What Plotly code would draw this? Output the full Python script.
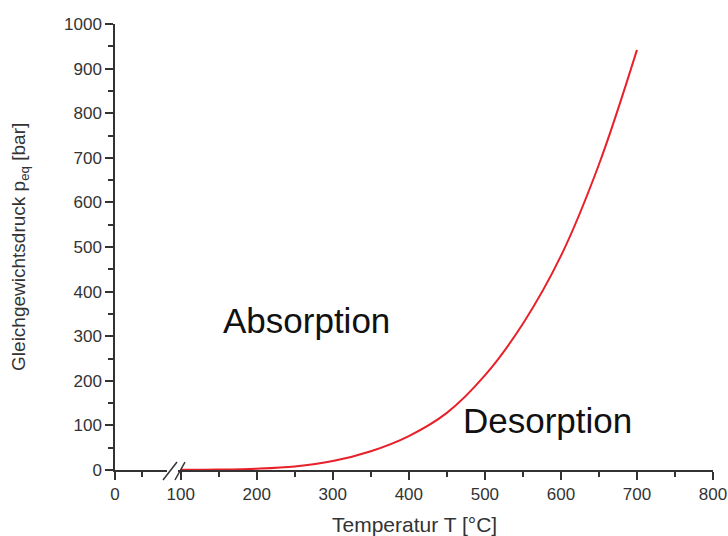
import plotly.graph_objects as go

# Equilibrium pressure curve (temperature in °C, pressure in bar)
temperature_c = [100, 150, 200, 250, 300, 350, 400, 450, 500, 550, 600, 650, 700]
pressure_bar = [0.3, 1, 3, 8, 20, 42, 76, 128, 212, 328, 480, 685, 942]

x_major_ticks = [100, 200, 300, 400, 500, 600, 700, 800]
y_major_ticks = [0, 100, 200, 300, 400, 500, 600, 700, 800, 900, 1000]

FONT = "Liberation Sans, Arial, sans-serif"
AXIS_COLOR = "#333333"
TEXT_COLOR = "#333333"

fig = go.Figure()
# The curve lives on the main temperature segment; it is also attached to the
# short segment near zero so that this segment forms its own subplot (clipped there).
for xa in ("x", "x2"):
    fig.add_trace(go.Scatter(
        x=temperature_c, y=pressure_bar,
        mode="lines", line=dict(color="#e8202a", width=2, shape="spline"),
        xaxis=xa, yaxis="y", showlegend=False, hoverinfo="x+y",
    ))

common_axis = dict(
    showgrid=False, zeroline=False, showline=True, automargin=False,
    linecolor=AXIS_COLOR, linewidth=1.5,
    ticks="outside", ticklen=8, tickwidth=1.5, tickcolor=AXIS_COLOR,
    tickfont=dict(family=FONT, size=17, color=TEXT_COLOR),
)

# Broken temperature axis: short segment near zero, then the main range
fig.update_layout(
    width=728, height=536,
    margin=dict(l=115, r=15, t=24, b=66),
    paper_bgcolor="white", plot_bgcolor="white",
    xaxis=dict(
        **common_axis, domain=[0, 0.087], range=[0, 97], anchor="y",
        tickmode="array", tickvals=[0], ticktext=["0"],
        minor=dict(tickmode="array", tickvals=[50], ticks="outside",
                   ticklen=5, tickwidth=1.5, tickcolor=AXIS_COLOR),
    ),
    xaxis2=dict(
        **common_axis, domain=[0.1054, 1], range=[96.5, 800], anchor="y",
        tickmode="array", tickvals=x_major_ticks,
        minor=dict(tickmode="linear", tick0=50, dtick=100, ticks="outside",
                   ticklen=5, tickwidth=1.5, tickcolor=AXIS_COLOR),
    ),
    yaxis=dict(
        **common_axis, range=[0, 1000], anchor="x", position=0,
        tickmode="array", tickvals=y_major_ticks,
        minor=dict(tickmode="linear", tick0=50, dtick=100, ticks="outside",
                   ticklen=5, tickwidth=1.5, tickcolor=AXIS_COLOR),
    ),
)

# Axis titles
fig.add_annotation(text="Temperatur T [°C]", xref="paper", yref="paper",
                   x=0.5, y=-0.123, xanchor="center", yanchor="middle", showarrow=False,
                   font=dict(family=FONT, size=21, color=TEXT_COLOR))
fig.add_annotation(text="Gleichgewichtsdruck p<sub>eq</sub> [bar]", xref="paper", yref="paper",
                   x=-0.159, y=0.5, xanchor="center", yanchor="middle",
                   textangle=-90, showarrow=False,
                   font=dict(family=FONT, size=19, color=TEXT_COLOR))

# Axis break marks
for x0, x1 in [(0.0803, 0.1037), (0.1003, 0.117)]:
    fig.add_shape(type="line", xref="paper", yref="paper",
                  x0=x0, y0=-0.0224, x1=x1, y1=0.0179,
                  line=dict(color=AXIS_COLOR, width=1.5))

# Region labels
fig.add_annotation(text="Absorption", xref="paper", yref="paper",
                   x=0.321, y=0.336, xanchor="center", yanchor="middle", showarrow=False,
                   font=dict(family=FONT, size=35, color="#111111"))
fig.add_annotation(text="Desorption", xref="paper", yref="paper",
                   x=0.724, y=0.112, xanchor="center", yanchor="middle", showarrow=False,
                   font=dict(family=FONT, size=35, color="#111111"))

fig.write_html("out.html")
